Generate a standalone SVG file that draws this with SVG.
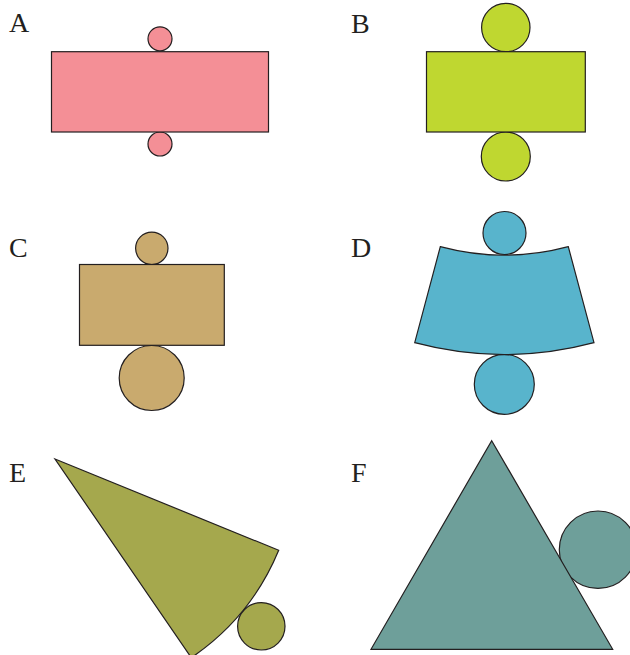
<svg xmlns="http://www.w3.org/2000/svg" width="630" height="655" viewBox="0 0 630 655">
<style>
.s{stroke:#231f20;stroke-width:1.2;stroke-linejoin:miter}
.lbl{font-family:"Liberation Serif","Times New Roman",serif;font-size:28px;fill:#231f20}
.a{fill:#f48f96}.b{fill:#bfd730}.c{fill:#c9aa6e}.d{fill:#58b4cc}.e{fill:#a5a84d}.f{fill:#6e9f9a}
</style>
<rect width="630" height="655" fill="#ffffff"/>
<g id="netA">
<text class="lbl" x="9" y="32">A</text>
<circle class="s a" cx="160" cy="38.8" r="12"/>
<circle class="s a" cx="160" cy="144" r="12"/>
<rect class="s a" x="51.5" y="51.7" width="217" height="80.3"/>
</g>
<g id="netB">
<text class="lbl" x="351" y="32.5">B</text>
<circle class="s b" cx="505.8" cy="27.5" r="24.2"/>
<circle class="s b" cx="505.8" cy="156.5" r="24.5"/>
<rect class="s b" x="426.5" y="51.7" width="158.8" height="80.3"/>
</g>
<g id="netC">
<text class="lbl" x="9" y="257">C</text>
<circle class="s c" cx="151.8" cy="248.3" r="16.2"/>
<circle class="s c" cx="151.7" cy="378" r="32.5"/>
<rect class="s c" x="79.5" y="264.5" width="144.8" height="80.8"/>
</g>
<g id="netD">
<text class="lbl" x="351" y="257">D</text>
<circle class="s d" cx="504.5" cy="233" r="21.5"/>
<circle class="s d" cx="504.3" cy="384.3" r="30"/>
<path class="s d" d="M440.3 246.7 A248 248 0 0 0 568.3 246.7 L594 342.7 A348 348 0 0 1 414.7 342.7 Z"/>
</g>
<g id="netE">
<text class="lbl" x="9" y="482">E</text>
<path class="s e" d="M55 459 L278.7 550.3 A241 241 0 0 1 191.3 657.7 Z"/>
<circle class="s e" cx="261.3" cy="626.3" r="23.7"/>
</g>
<g id="netF">
<text class="lbl" x="351" y="482">F</text>
<circle class="s f" cx="598" cy="549.7" r="38.7"/>
<path class="s f" d="M491.7 440.7 L612.7 649.3 L371 649.3 Z"/>
</g>
</svg>
